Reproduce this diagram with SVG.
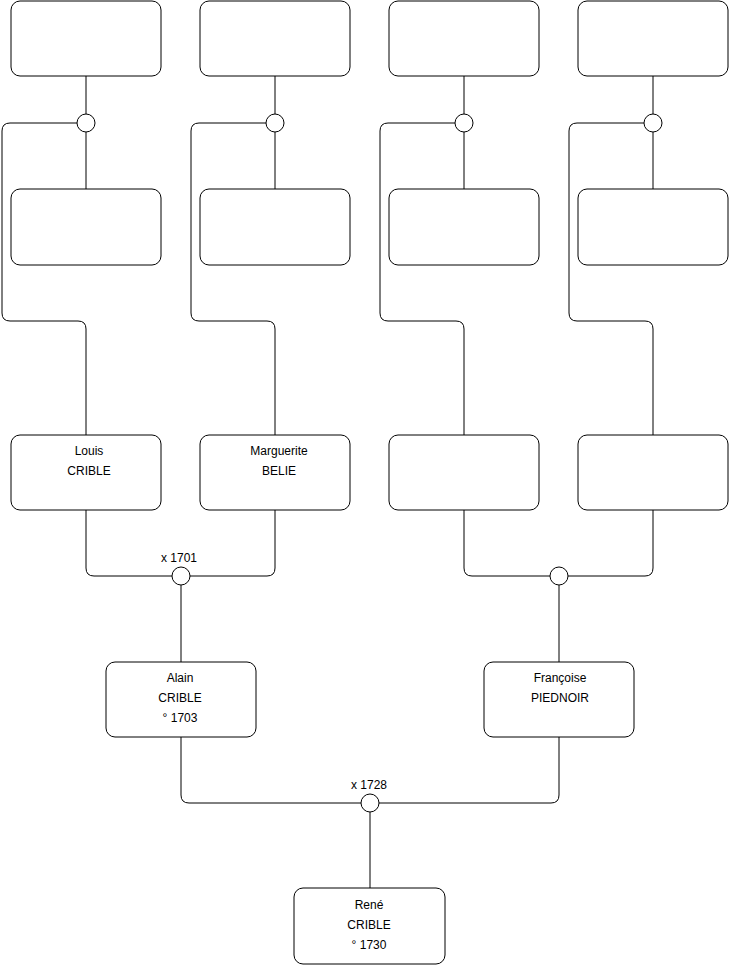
<svg xmlns="http://www.w3.org/2000/svg" width="740" height="975" viewBox="0 0 740 975">
<style>
.n{fill:#fff;stroke:#000;stroke-width:1}
.c{fill:none;stroke:#000;stroke-width:1}
.j{fill:#fff;stroke:#000;stroke-width:1}
text{font-family:"Liberation Sans",Arial,sans-serif;font-size:12px;fill:#000;text-anchor:middle}
</style>
<rect width="740" height="975" fill="#fff"/>
<g id="connectors">
<path class="c" d="M86 76V114M86 132V189M77 123H10Q2 123 2 131V313Q2 321 10 321H78Q86 321 86 329V435"/>
<path class="c" d="M275 76V114M275 132V189M266 123H199Q191 123 191 131V313Q191 321 199 321H267Q275 321 275 329V435"/>
<path class="c" d="M464 76V114M464 132V189M455 123H388Q380 123 380 131V313Q380 321 388 321H456Q464 321 464 329V435"/>
<path class="c" d="M653 76V114M653 132V189M644 123H577Q569 123 569 131V313Q569 321 577 321H645Q653 321 653 329V435"/>
<path class="c" d="M86 510V568Q86 576 94 576H172M275 510V568Q275 576 267 576H190M181 585V662"/>
<path class="c" d="M464 510V568Q464 576 472 576H550M653 510V568Q653 576 645 576H568M559 585V662"/>
<path class="c" d="M181 737V795Q181 803 189 803H361M559 737V795Q559 803 551 803H379M370 812V888"/>
</g>
<g id="j1"><circle class="j" cx="86" cy="123" r="9"/></g>
<g id="j2"><circle class="j" cx="275" cy="123" r="9"/></g>
<g id="j3"><circle class="j" cx="464" cy="123" r="9"/></g>
<g id="j4"><circle class="j" cx="653" cy="123" r="9"/></g>
<g id="j5"><circle class="j" cx="181" cy="576" r="9"/><text x="179" y="562">x 1701</text></g>
<g id="j6"><circle class="j" cx="559" cy="576" r="9"/></g>
<g id="j7"><circle class="j" cx="370" cy="803" r="9"/><text x="369" y="789">x 1728</text></g>
<g id="n1"><rect class="n" x="11" y="1" width="150" height="75" rx="9"/></g>
<g id="n2"><rect class="n" x="200" y="1" width="150" height="75" rx="9"/></g>
<g id="n3"><rect class="n" x="389" y="1" width="150" height="75" rx="9"/></g>
<g id="n4"><rect class="n" x="578" y="1" width="150" height="75" rx="9"/></g>
<g id="n5"><rect class="n" x="11" y="189" width="150" height="76" rx="9"/></g>
<g id="n6"><rect class="n" x="200" y="189" width="150" height="76" rx="9"/></g>
<g id="n7"><rect class="n" x="389" y="189" width="150" height="76" rx="9"/></g>
<g id="n8"><rect class="n" x="578" y="189" width="150" height="76" rx="9"/></g>
<g id="louis"><rect class="n" x="11" y="435" width="150" height="75" rx="9"/><text x="89" y="455">Louis</text><text x="89" y="475">CRIBLE</text></g>
<g id="marguerite"><rect class="n" x="200" y="435" width="150" height="75" rx="9"/><text x="279" y="455">Marguerite</text><text x="279" y="475">BELIE</text></g>
<g id="n11"><rect class="n" x="389" y="435" width="150" height="75" rx="9"/></g>
<g id="n12"><rect class="n" x="578" y="435" width="150" height="75" rx="9"/></g>
<g id="alain"><rect class="n" x="106" y="662" width="150" height="75" rx="9"/><text x="180" y="682">Alain</text><text x="180" y="702">CRIBLE</text><text x="180" y="722">° 1703</text></g>
<g id="francoise"><rect class="n" x="484" y="662" width="150" height="75" rx="9"/><text x="560" y="682">Françoise</text><text x="560" y="702">PIEDNOIR</text></g>
<g id="rene"><rect class="n" x="294" y="888" width="151" height="76" rx="9"/><text x="369" y="909">René</text><text x="369" y="929">CRIBLE</text><text x="369" y="949">° 1730</text></g>
</svg>
